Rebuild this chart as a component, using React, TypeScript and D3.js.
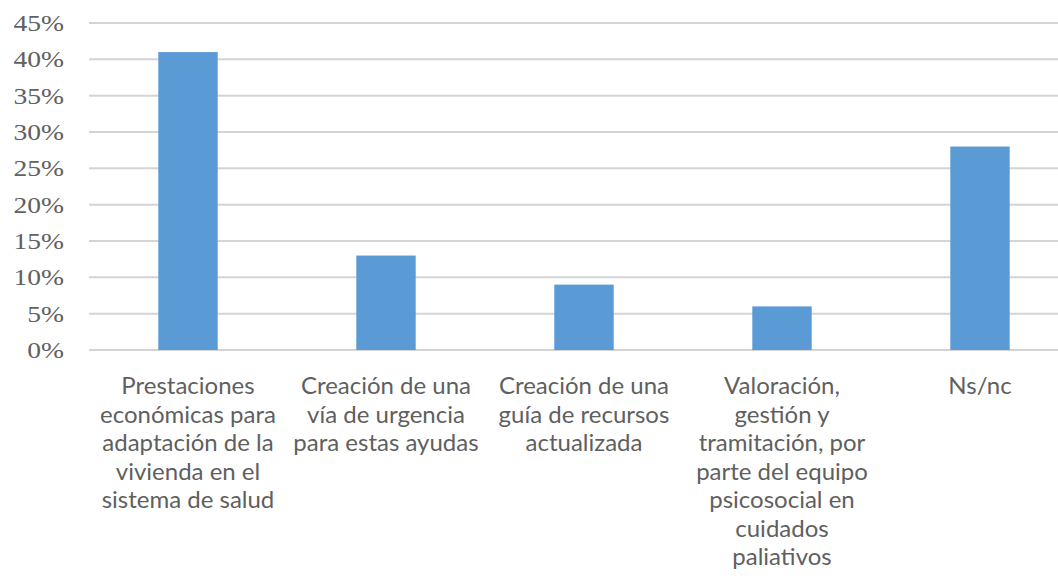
import React, { useEffect, useRef } from 'react';
import * as d3 from 'd3';

const categories = [
    'Prestaciones económicas para adaptación de la vivienda en el sistema de salud',
    'Creación de una vía de urgencia para estas ayudas',
    'Creación de una guía de recursos actualizada',
    'Valoración, gestión y tramitación, por parte del equipo psicosocial en cuidados paliativos',
    'Ns/nc',
];

// label lines as wrapped in the original chart
const labelLines = [
    ['Prestaciones', 'económicas para', 'adaptación de la', 'vivienda en el', 'sistema de salud'],
    ['Creación de una', 'vía de urgencia', 'para estas ayudas'],
    ['Creación de una', 'guía de recursos', 'actualizada'],
    ['Valoración,', 'gestión y', 'tramitación, por', 'parte del equipo', 'psicosocial en', 'cuidados', 'paliativos'],
    ['Ns/nc'],
];

const values = [0.41, 0.13, 0.09, 0.06, 0.28];

const yTicks = [0, 0.05, 0.1, 0.15, 0.2, 0.25, 0.3, 0.35, 0.4, 0.45];

const App = () => {
    const ref = useRef<SVGSVGElement>(null);

    let width = 1058;
    let height = 581;

    useEffect(() => {
        let svg = d3.select(ref.current);
        svg.selectAll('*').remove();

        let x = d3.scaleBand()
            .domain(categories)
            .range([89, 1079])
            .paddingInner(0.7)
            .paddingOuter(0.35);

        let y = d3.scaleLinear()
            .domain([0, 0.45])
            .range([350, 23]);

        // gridlines
        svg.selectAll('line.grid')
            .data(yTicks)
            .enter()
            .append('line')
            .attr('class', 'grid')
            .attr('x1', 89)
            .attr('x2', 1079)
            .attr('y1', d => y(d))
            .attr('y2', d => y(d))
            .attr('stroke', '#d4d4d4')
            .attr('stroke-width', 2);

        // y tick labels, serif and stretched a little wider like the source
        svg.selectAll('text.ytick')
            .data(yTicks)
            .enter()
            .append('text')
            .attr('class', 'ytick')
            .attr('transform', d => `translate(64, ${y(d) + 8}) scale(1.2, 1)`)
            .attr('text-anchor', 'end')
            .style('font-family', '"Liberation Serif", "Times New Roman", serif')
            .style('font-size', '23px')
            .attr('fill', '#616161')
            .text(d => d3.format('.0%')(d));

        // bars
        svg.selectAll('rect.bar')
            .data(values)
            .enter()
            .append('rect')
            .attr('class', 'bar')
            .attr('x', (d, i) => x(categories[i]) as number)
            .attr('width', x.bandwidth())
            .attr('y', d => y(d))
            .attr('height', d => y(0) - y(d))
            .attr('fill', '#5b9bd5');

        // category labels
        let labels = svg.selectAll('text.xlabel')
            .data(labelLines)
            .enter()
            .append('text')
            .attr('class', 'xlabel')
            .attr('text-anchor', 'middle')
            .style('font-family', 'Lato, "Open Sans", sans-serif')
            .style('font-size', '24px')
            .attr('fill', '#5f5f5f');

        labels.each(function (lines, i) {
            let cx = (x(categories[i]) as number) + x.bandwidth() / 2;
            d3.select(this)
                .selectAll('tspan')
                .data(lines)
                .enter()
                .append('tspan')
                .attr('x', cx)
                .attr('y', (d, j) => 394 + j * 28.5)
                .text(d => d);
        });
    }, []);

    return (
        <svg
            ref={ref}
            width={width}
            height={height}
            style={{ position: 'absolute', left: 0, top: 0, background: '#fff' }}
        />
    );
};

export default App;
